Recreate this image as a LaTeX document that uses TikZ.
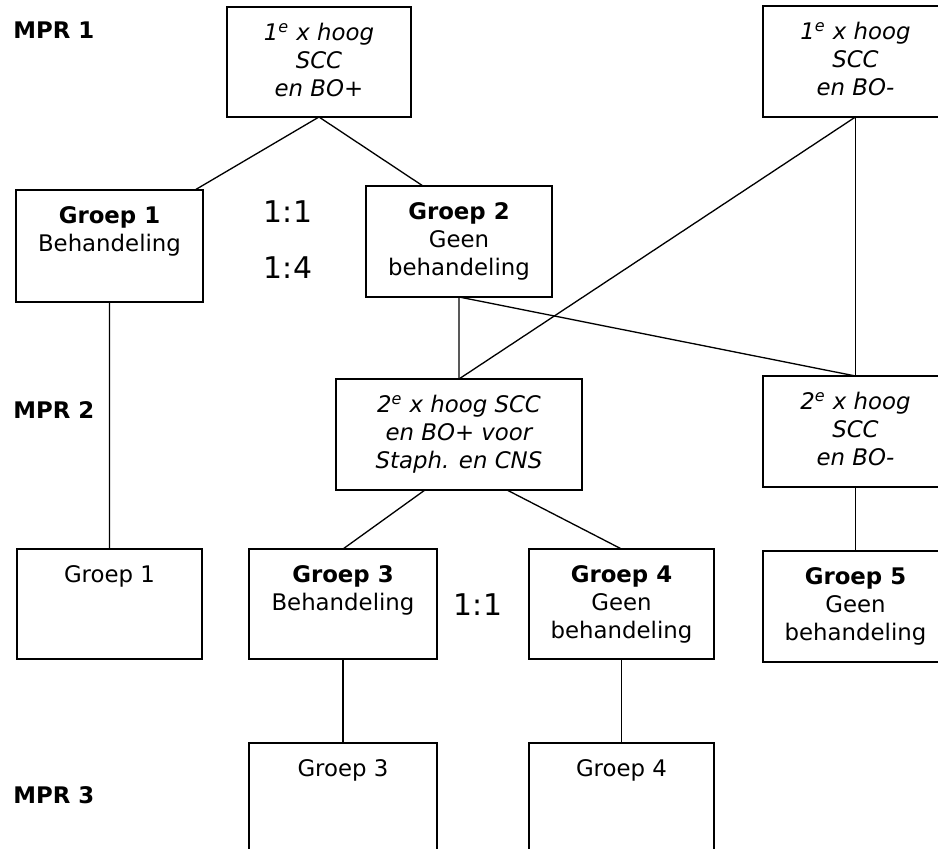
\documentclass[tikz,border=0pt]{standalone}
\usepackage{fontspec}
\setmainfont{DejaVu Sans}
\usepackage{tikz}

% 箱の中身 (幅, 高さ, 文字)
\newcommand{\boxtxt}[3]{\parbox[c][#2][t]{#1}{\centering\vspace*{8pt}\strut #3}}

\begin{document}
\begin{tikzpicture}[x=0.02cm,y=-0.02cm,
		font=\fontsize{13}{15.9}\selectfont,
		box/.style={draw,line width=1.1pt,inner sep=0pt,outer sep=0pt,anchor=north west},
		conn/.style={line width=0.75pt},
		ratio/.style={font=\fontsize{17}{20}\selectfont},
		mpr/.style={anchor=west,inner sep=0pt,font=\fontsize{13}{15.9}\selectfont\bfseries}]
			\useasboundingbox (0,0) rectangle (938,849);
			% MPR の見出し
			\node[mpr] (mprA) at (13,30) {MPR 1};
			\node[mpr] (mprB) at (13,410) {MPR 2};
			\node[mpr] (mprC) at (13,795) {MPR 3};
			% 1回目
			\node[box] (first_pos) at (227,7) {\boxtxt{3.68cm}{2.2cm}{\itshape 1\textsuperscript{e} x hoog\\SCC\\en BO+}};
			\node[box] (first_neg) at (763,6) {\boxtxt{3.7cm}{2.22cm}{\itshape 1\textsuperscript{e} x hoog\\SCC\\en BO-}};
			\node[box] (group1) at (16,190) {\boxtxt{3.74cm}{2.24cm}{\textbf{Groep 1}\\Behandeling}};
			\node[box] (group2) at (366,186) {\boxtxt{3.72cm}{2.22cm}{\textbf{Groep 2}\\Geen\\behandeling}};
			\node[ratio] (ratio_a) at (288,212) {1:1};
			\node[ratio] (ratio_b) at (288,268) {1:4};
			% 2回目
			\node[box] (second_pos) at (336,379) {\boxtxt{4.92cm}{2.22cm}{\itshape 2\textsuperscript{e} x hoog SCC\\en BO+ voor\\Staph. en CNS}};
			\node[box] (second_neg) at (763,376) {\boxtxt{3.7cm}{2.22cm}{\itshape 2\textsuperscript{e} x hoog\\SCC\\en BO-}};
			\node[box] (group1_end) at (17,549) {\boxtxt{3.7cm}{2.2cm}{Groep 1}};
			\node[box] (group3) at (249,549) {\boxtxt{3.76cm}{2.2cm}{\textbf{Groep 3}\\Behandeling}};
			\node[box] (group4) at (529,549) {\boxtxt{3.7cm}{2.2cm}{\textbf{Groep 4}\\Geen\\behandeling}};
			\node[box] (group5) at (763,551) {\boxtxt{3.7cm}{2.22cm}{\textbf{Groep 5}\\Geen\\behandeling}};
			\node[ratio] (ratio_c) at (478,605) {1:1};
			% 3回目
			\node[box] (group3_end) at (249,743) {\boxtxt{3.76cm}{2.4cm}{Groep 3}};
			\node[box] (group4_end) at (529,743) {\boxtxt{3.7cm}{2.4cm}{Groep 4}};
			% 線の描画
			\draw[conn] (first_pos.south)--([xshift=-0.16cm]group1.north east);
			\draw[conn] (first_pos.south)--([xshift=1.14cm]group2.north west);
			\draw[conn] (first_neg.south)--(second_pos.north);
			\draw[conn] (first_neg.south)--(second_neg.north);
			\draw[conn] (group2.south)--(second_pos.north);
			\draw[conn] (group2.south)--(second_neg.north);
			\draw[conn] (group1.south)--(group1_end.north);
			\draw[conn] ([xshift=-0.68cm]second_pos.south)--(group3.north);
			\draw[conn] ([xshift=0.96cm]second_pos.south)--(group4.north);
			\draw[conn] (second_neg.south)--(group5.north);
			\draw[conn] (group3.south)--(group3_end.north);
			\draw[conn] (group4.south)--(group4_end.north);
		\end{tikzpicture}
\end{document}
